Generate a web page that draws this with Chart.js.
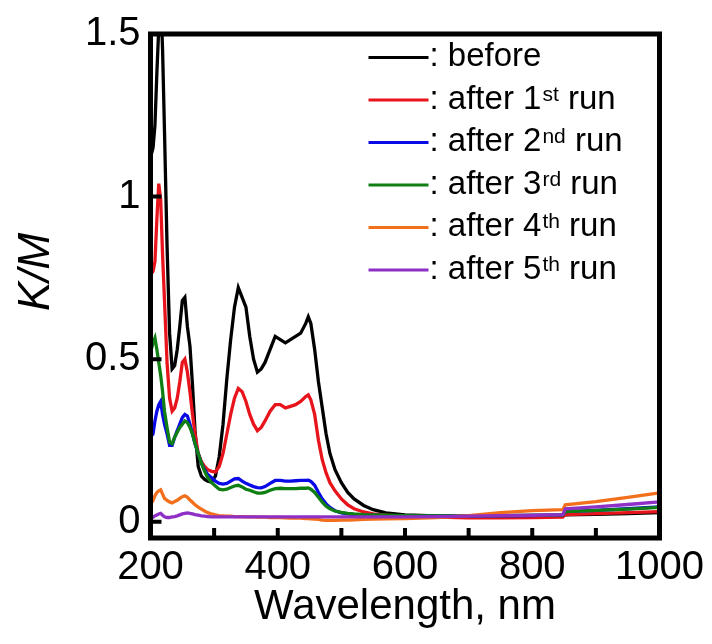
<!DOCTYPE html>
<html>
<head>
<meta charset="utf-8">
<title>K/M spectra</title>
<script src="https://cdn.jsdelivr.net/npm/chart.js@4.4.1/dist/chart.umd.min.js"></script>
<style>
  html, body { margin: 0; padding: 0; background: #fff; }
  #wrap { width: 712px; height: 644px; }
</style>
</head>
<body>
<div id="wrap"><canvas id="kmChart" width="712" height="644"></canvas></div>
<script>
// Wavelength grid (nm) shared by all spectra
const wavelengths = [200, 204, 207, 210, 213, 216, 219, 222, 226, 230, 234, 238, 242, 246, 250, 254, 258, 262, 266, 270,
    275, 280, 285, 290, 296, 302, 308, 314, 320, 326, 332, 338, 344, 350, 356, 362, 368, 374, 380, 388,
    396, 404, 412, 420, 428, 436, 444, 448, 452, 458, 464, 470, 476, 482, 490, 500, 510, 520, 535, 550,
    570, 600, 650, 700, 750, 800, 848, 852, 900, 950, 1000];

// K/M values
const before = [1.12, 1.15, 1.22, 1.38, 1.52, 1.62, 1.45, 1.20, 0.85, 0.58, 0.47, 0.48, 0.53, 0.60, 0.68, 0.69, 0.60, 0.54, 0.42, 0.28,
    0.17, 0.14, 0.13, 0.125, 0.122, 0.14, 0.20, 0.30, 0.44, 0.56, 0.66, 0.72, 0.69, 0.66, 0.57, 0.50, 0.46, 0.47, 0.49, 0.53,
    0.57, 0.56, 0.55, 0.56, 0.57, 0.58, 0.61, 0.63, 0.61, 0.53, 0.43, 0.35, 0.27, 0.21, 0.16, 0.12, 0.09, 0.07, 0.05, 0.037,
    0.027, 0.021, 0.018, 0.017, 0.018, 0.018, 0.019, 0.021, 0.023, 0.025, 0.028];
const run1 = [0.76, 0.77, 0.80, 0.93, 1.04, 0.99, 0.82, 0.68, 0.49, 0.38, 0.34, 0.35, 0.38, 0.43, 0.49, 0.50, 0.46, 0.40, 0.33, 0.27,
    0.21, 0.185, 0.17, 0.16, 0.155, 0.153, 0.17, 0.21, 0.27, 0.33, 0.38, 0.41, 0.40, 0.37, 0.33, 0.30, 0.28, 0.29, 0.31, 0.34,
    0.36, 0.36, 0.35, 0.355, 0.36, 0.37, 0.385, 0.39, 0.375, 0.33, 0.25, 0.19, 0.15, 0.12, 0.095, 0.07, 0.052, 0.04, 0.03, 0.024,
    0.02, 0.017, 0.014, 0.012, 0.012, 0.013, 0.014, 0.022, 0.025, 0.028, 0.031];
const run2 = [0.26, 0.27, 0.31, 0.34, 0.36, 0.37, 0.33, 0.30, 0.27, 0.235, 0.235, 0.26, 0.28, 0.30, 0.32, 0.33, 0.325, 0.30, 0.27, 0.24,
    0.21, 0.18, 0.16, 0.145, 0.135, 0.125, 0.118, 0.116, 0.118, 0.125, 0.132, 0.133, 0.125, 0.118, 0.113, 0.108, 0.105, 0.104, 0.108, 0.118,
    0.127, 0.127, 0.125, 0.125, 0.126, 0.127, 0.127, 0.128, 0.124, 0.112, 0.09, 0.07, 0.055, 0.044, 0.034, 0.027, 0.024, 0.022, 0.02, 0.02,
    0.019, 0.018, 0.017, 0.017, 0.018, 0.019, 0.021, 0.031, 0.035, 0.040, 0.046];
const run3 = [0.52, 0.55, 0.565, 0.53, 0.49, 0.45, 0.40, 0.34, 0.29, 0.245, 0.24, 0.26, 0.275, 0.29, 0.30, 0.31, 0.305, 0.29, 0.27, 0.24,
    0.21, 0.18, 0.155, 0.135, 0.12, 0.11, 0.10, 0.098, 0.10, 0.105, 0.11, 0.112, 0.107, 0.10, 0.097, 0.092, 0.088, 0.088, 0.09, 0.097,
    0.102, 0.103, 0.102, 0.102, 0.102, 0.103, 0.103, 0.104, 0.10, 0.09, 0.075, 0.06, 0.048, 0.04, 0.033, 0.029, 0.026, 0.024, 0.022, 0.021,
    0.02, 0.019, 0.018, 0.018, 0.019, 0.02, 0.021, 0.031, 0.035, 0.039, 0.044];
const run4 = [0.055, 0.065, 0.08, 0.09, 0.095, 0.098, 0.085, 0.072, 0.066, 0.061, 0.058, 0.062, 0.066, 0.072, 0.077, 0.08, 0.075, 0.067, 0.06, 0.052,
    0.045, 0.039, 0.033, 0.028, 0.024, 0.021, 0.019, 0.018, 0.017, 0.017, 0.016, 0.016, 0.016, 0.015, 0.015, 0.015, 0.014, 0.014, 0.014, 0.013,
    0.013, 0.013, 0.012, 0.011, 0.011, 0.011, 0.01, 0.01, 0.009, 0.008, 0.007, 0.005, 0.004, 0.004, 0.004, 0.005, 0.005, 0.006, 0.007, 0.008,
    0.009, 0.01, 0.013, 0.019, 0.028, 0.034, 0.037, 0.052, 0.062, 0.075, 0.089];
const run5 = [0.012, 0.014, 0.018, 0.021, 0.024, 0.026, 0.02, 0.015, 0.013, 0.013, 0.015, 0.016, 0.018, 0.021, 0.024, 0.026, 0.027, 0.026, 0.024, 0.022,
    0.02, 0.018, 0.017, 0.016, 0.015, 0.015, 0.015, 0.015, 0.015, 0.015, 0.015, 0.015, 0.015, 0.015, 0.015, 0.015, 0.015, 0.015, 0.015, 0.015,
    0.015, 0.015, 0.015, 0.015, 0.015, 0.015, 0.015, 0.015, 0.015, 0.015, 0.015, 0.015, 0.015, 0.015, 0.015, 0.015, 0.015, 0.015, 0.015, 0.015,
    0.015, 0.015, 0.016, 0.017, 0.019, 0.02, 0.022, 0.04, 0.046, 0.053, 0.061];

// Legend text: main part, superscript, tail
const seriesNames = ['before', 'after 1st run', 'after 2nd run', 'after 3rd run', 'after 4th run', 'after 5th run'];
const legendMain = [': before', ': after 1', ': after 2', ': after 3', ': after 4', ': after 5'];
const legendSup = ['', 'st', 'nd', 'rd', 'th', 'th'];
const legendTail = ['', ' run', ' run', ' run', ' run', ' run'];
const seriesColors = ['#000000', '#e8141c', '#0a0ae6', '#0f7f14', '#f26f1c', '#8e2fc6'];

// Axis ticks
const xTicks = [200, 300, 400, 500, 600, 700, 800, 900, 1000];
const xTickLabels = [200, 400, 600, 800, 1000];
const yTicks = [0, 0.5, 1, 1.5];

const fontFamily = "'Liberation Sans', Arial, Helvetica, sans-serif";

// Frame, inward ticks, legend and y title
const framePlugin = {
    id: 'frame',
    afterDatasetsDraw(chart) {
        const { ctx, chartArea: a, scales: { x, y } } = chart;
        ctx.save();
        ctx.strokeStyle = '#000';

        // inward tick marks on the bottom and left axes
        ctx.lineWidth = 4;
        ctx.beginPath();
        xTicks.forEach(v => {
            const px = x.getPixelForValue(v);
            ctx.moveTo(px, a.bottom);
            ctx.lineTo(px, a.bottom - 10);
        });
        yTicks.forEach(v => {
            const py = y.getPixelForValue(v);
            ctx.moveTo(a.left, py);
            ctx.lineTo(a.left + 11, py);
        });
        ctx.stroke();

        // box
        ctx.lineWidth = 5;
        ctx.strokeRect(a.left, a.top, a.right - a.left, a.bottom - a.top);

        // legend
        const lx0 = a.left + 218;
        const lx1 = lx0 + 60;
        const base0 = a.top + 32;
        const rowGap = 42.5;
        ctx.textAlign = 'left';
        ctx.textBaseline = 'alphabetic';
        chart.data.datasets.forEach((ds, i) => {
            const base = base0 + i * rowGap;
            ctx.strokeStyle = ds.borderColor;
            ctx.lineWidth = 3;
            ctx.beginPath();
            ctx.moveTo(lx0, base - 8.5);
            ctx.lineTo(lx1, base - 8.5);
            ctx.stroke();

            ctx.fillStyle = '#000';
            let tx = lx1 + 1;
            ctx.font = '33px ' + fontFamily;
            ctx.fillText(legendMain[i], tx, base);
            tx += ctx.measureText(legendMain[i]).width + 1;
            if (legendSup[i]) {
                ctx.font = '21px ' + fontFamily;
                ctx.fillText(legendSup[i], tx, base - 8);
                tx += ctx.measureText(legendSup[i]).width;
                ctx.font = '33px ' + fontFamily;
                ctx.fillText(legendTail[i], tx, base);
            }
        });

        // y axis title
        ctx.fillStyle = '#000';
        ctx.font = 'italic 44px ' + fontFamily;
        ctx.textAlign = 'center';
        ctx.textBaseline = 'middle';
        ctx.translate(37, 272);
        ctx.rotate(-Math.PI / 2);
        ctx.fillText('K/M', 0, 0);
        ctx.restore();
    }
};

const allSeries = [before, run1, run2, run3, run4, run5];

const ctx = document.getElementById('kmChart').getContext('2d');
const kmChart = new Chart(ctx, {
    type: 'line',
    data: {
        labels: wavelengths,
        datasets: allSeries.map((vals, i) => ({
            label: seriesNames[i],
            data: vals.map((v, j) => ({ x: wavelengths[j], y: v })),
            borderColor: seriesColors[i],
            borderWidth: 3.3,
            pointRadius: 0,
            tension: 0,
            fill: false,
            order: allSeries.length - i
        }))
    },
    options: {
        responsive: false,
        animation: false,
        layout: { padding: { left: 0, top: 29.5, right: 52.5, bottom: 0 } },
        plugins: {
            legend: { display: false },
            tooltip: { enabled: false }
        },
        scales: {
            x: {
                type: 'linear',
                min: 200,
                max: 1000,
                grid: { display: false, drawTicks: false },
                border: { display: false },
                afterBuildTicks: s => { s.ticks = xTicks.map(v => ({ value: v })); },
                afterFit: s => { s.height = 106; },
                ticks: {
                    autoSkip: false,
                    maxRotation: 0,
                    padding: 6,
                    color: '#000',
                    font: { family: fontFamily, size: 40 },
                    callback: v => xTickLabels.includes(v) ? String(v) : ''
                },
                title: {
                    display: true,
                    text: 'Wavelength, nm',
                    color: '#000',
                    font: { family: fontFamily, size: 42 },
                    padding: { top: 0, bottom: 11 }
                }
            },
            y: {
                min: -0.05,
                max: 1.5,
                grid: { display: false, drawTicks: false },
                border: { display: false },
                afterBuildTicks: s => { s.ticks = yTicks.map(v => ({ value: v })); },
                afterFit: s => { s.width = 150.5; },
                ticks: {
                    padding: 10,
                    color: '#000',
                    font: { family: fontFamily, size: 40 },
                    callback: v => String(v)
                }
            }
        }
    },
    plugins: [framePlugin]
});
</script>
</body>
</html>
